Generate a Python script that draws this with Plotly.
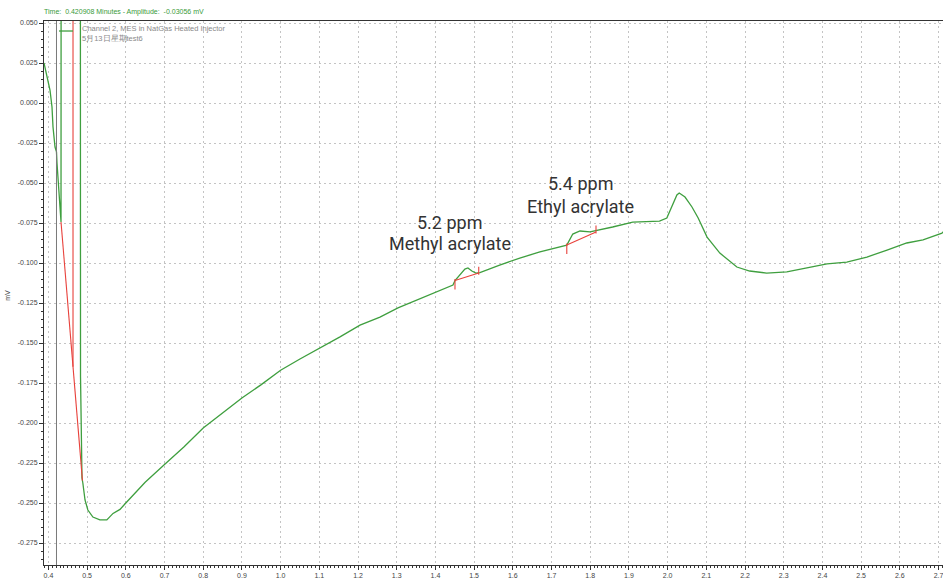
import plotly.graph_objects as go

# ---- Chromatogram trace: Channel 2, MES in NatGas Heated Injector ----
time_min = [
    0.3886, 0.3964, 0.4041, 0.4093, 0.4119, 0.4171, 0.4209, 0.4222, 0.4260,
    0.4300, 0.4326, 0.4332, 0.4823, 0.4830, 0.4868, 0.4890, 0.4946, 0.5020,
    0.5150, 0.5330, 0.5510, 0.5670, 0.5850, 0.6000, 0.6190, 0.6500, 0.7000,
    0.7500, 0.8000, 0.8500, 0.9000, 0.9500, 1.0000, 1.0500, 1.1020, 1.1535,
    1.2052, 1.2568, 1.3033, 1.3602, 1.4041, 1.4454, 1.4506, 1.4633, 1.4762,
    1.4840, 1.4943, 1.5047, 1.5150, 1.5660, 1.6180, 1.6700, 1.7140, 1.7395,
    1.7550, 1.7736, 1.7994, 1.8124, 1.8434, 1.8580, 1.9100, 1.9620, 1.9790,
    1.9980, 2.0110, 2.0240, 2.0300, 2.0450, 2.0630, 2.0790, 2.1020, 2.1350,
    2.1790, 2.2120, 2.2560, 2.3080, 2.3600, 2.4120, 2.4630, 2.5150, 2.5670,
    2.6180, 2.6600, 2.7090, 2.7150,
]
signal_mv = [
    0.0250, 0.0163, 0.0081, -0.0025, -0.0150, -0.0275, -0.03056, -0.0375, -0.0510,
    -0.0650, -0.0744, 0.3500, 0.3500, -0.1710, -0.2344, -0.2375, -0.2481, -0.2544,
    -0.2588, -0.2606, -0.2606, -0.2565, -0.2540, -0.2500, -0.2450, -0.2370, -0.2260,
    -0.2150, -0.2031, -0.1935, -0.1844, -0.1760, -0.1670, -0.1600, -0.1531, -0.1462,
    -0.1388, -0.1338, -0.1281, -0.1225, -0.1181, -0.1138, -0.1110, -0.1075, -0.1038,
    -0.1031, -0.1050, -0.1063, -0.1060, -0.1013, -0.0969, -0.0931, -0.0906, -0.0888,
    -0.0819, -0.0800, -0.0806, -0.0800, -0.0781, -0.0775, -0.0744, -0.0738, -0.0738,
    -0.0719, -0.0650, -0.0575, -0.0563, -0.0588, -0.0650, -0.0719, -0.0838, -0.0938,
    -0.1025, -0.1050, -0.1063, -0.1056, -0.1031, -0.1006, -0.0994, -0.0963, -0.0919,
    -0.0875, -0.0856, -0.0813, -0.0800,
]

# cursor readout
cursor_time = 0.420908
cursor_amp = -0.03056

# solvent peak integration (baseline + drop line)
solvent_base_t = [0.4326, 0.4880]
solvent_base_v = [-0.0744, -0.2360]
solvent_drop_t = 0.4636
off_scale_mv = 0.3500

# identified peaks
peak_names = ["Methyl acrylate", "Ethyl acrylate"]
peak_conc = ["5.2 ppm", "5.4 ppm"]
peak_start_t = [1.4506, 1.7395]
peak_end_t = [1.5120, 1.8150]
peak_start_v = [-0.1110, -0.0888]
peak_end_v = [-0.1063, -0.0806]

# axis ticks
x_tick_vals = [0.4, 0.5, 0.6, 0.7, 0.8, 0.9, 1.0, 1.1, 1.2, 1.3, 1.4, 1.5,
               1.6, 1.7, 1.8, 1.9, 2.0, 2.1, 2.2, 2.3, 2.4, 2.5, 2.6, 2.7]
x_tick_text = ["0.4", "0.5", "0.6", "0.7", "0.8", "0.9", "1.0", "1.1", "1.2",
               "1.3", "1.4", "1.5", "1.6", "1.7", "1.8", "1.9", "2.0", "2.1",
               "2.2", "2.3", "2.4", "2.5", "2.6", "2.7"]
y_tick_vals = [0.050, 0.025, 0.000, -0.025, -0.050, -0.075, -0.100, -0.125,
               -0.150, -0.175, -0.200, -0.225, -0.250, -0.275]
y_tick_text = ["0.050", "0.025", "0.000", "-0.025", "-0.050", "-0.075", "-0.100",
               "-0.125", "-0.150", "-0.175", "-0.200", "-0.225", "-0.250", "-0.275"]

TRACE_GREEN = "#3f9f3f"
MARK_RED = "#e8413b"
TICK_FONT = dict(family="Liberation Sans, Arial, sans-serif", size=7, color="#444444")
LABEL_FONT = dict(family="Roboto, sans-serif", size=18, color="#333333")
MARK_UP = 0.004
MARK_DOWN = 0.0055

# integration marks: baselines, drop line and start/end ticks
mark_x, mark_y = [], []
mark_x += solvent_base_t + [None]
mark_y += solvent_base_v + [None]
frac = (solvent_drop_t - solvent_base_t[0]) / (solvent_base_t[1] - solvent_base_t[0])
drop_base = solvent_base_v[0] + frac * (solvent_base_v[1] - solvent_base_v[0])
mark_x += [solvent_drop_t, solvent_drop_t, None]
mark_y += [drop_base, off_scale_mv, None]
for ts, te, vs, ve in zip(peak_start_t, peak_end_t, peak_start_v, peak_end_v):
    mark_x += [ts, te, None, ts, ts, None, te, te, None]
    mark_y += [vs, ve, None, vs + 0.001, vs - MARK_DOWN, None, ve - 0.001, ve + MARK_UP, None]

fig = go.Figure()
fig.add_trace(go.Scatter(x=time_min, y=signal_mv, mode="lines",
                         line=dict(color=TRACE_GREEN, width=1.3),
                         showlegend=False, hoverinfo="skip"))
fig.add_trace(go.Scatter(x=mark_x, y=mark_y, mode="lines",
                         line=dict(color=MARK_RED, width=1.1),
                         showlegend=False, hoverinfo="skip"))

# cursor line
fig.add_shape(type="line", xref="x", yref="paper", x0=cursor_time, x1=cursor_time,
              y0=0, y1=1, line=dict(color="#7a7a7a", width=1))
# legend swatch
fig.add_shape(type="line", xref="paper", yref="paper", x0=0.0167, x1=0.0323,
              y0=0.9816, y1=0.9816, line=dict(color=TRACE_GREEN, width=1.3))

annotations = [
    dict(text=f"Time:  {cursor_time:.6f} Minutes - Amplitude:  {cursor_amp:.5f} mV",
         xref="paper", yref="paper", x=-0.0025, y=1.0165, xanchor="left",
         yanchor="middle", showarrow=False,
         font=dict(family="Liberation Sans, Arial, sans-serif", size=7, color="#3a9a3a")),
    dict(text="Channel 2, MES in NatGas Heated Injector<br>5月13日星期test6",
         xref="paper", yref="paper", x=0.0405, y=0.9985, xanchor="left",
         yanchor="top", align="left", showarrow=False,
         font=dict(family="Liberation Sans, Arial, sans-serif", size=7.5, color="#8a8a8a")),
    dict(text="mV", xref="paper", yref="paper", x=-0.046, y=0.495, textangle=-90,
         showarrow=False, font=TICK_FONT),
    dict(text=peak_conc[0], x=1.4377, y=-0.0744, showarrow=False, font=LABEL_FONT),
    dict(text=peak_names[0], x=1.4377, y=-0.0881, showarrow=False, font=LABEL_FONT),
    dict(text=peak_conc[1], x=1.776, y=-0.0506, showarrow=False, font=LABEL_FONT),
    dict(text=peak_names[1], x=1.776, y=-0.0644, showarrow=False, font=LABEL_FONT),
]

grid_style = dict(showgrid=True, gridcolor="#c4c4c4", gridwidth=1, griddash="2px,3px")

fig.update_layout(
    width=943, height=581,
    margin=dict(l=44, r=0, t=21, b=16),
    paper_bgcolor="white", plot_bgcolor="white",
    annotations=annotations,
    showlegend=False,
    xaxis=dict(range=[0.38863, 2.71163], tickmode="array", tickvals=x_tick_vals,
               ticktext=x_tick_text, ticks="outside", ticklen=4, tickcolor="#333333",
               showline=True, linecolor="#333333", linewidth=1, mirror=True,
               zeroline=False, tickfont=TICK_FONT, ticklabeloverflow="allow",
               minor=dict(tickmode="linear", tick0=0.4, dtick=0.01, ticks="outside",
                          ticklen=2, tickcolor="#333333", showgrid=False),
               **grid_style),
    yaxis=dict(range=[-0.28875, 0.05125], tickmode="array", tickvals=y_tick_vals,
               ticktext=y_tick_text, ticks="outside", ticklen=4, tickcolor="#333333",
               showline=True, linecolor="#333333", linewidth=1,
               zeroline=False, tickfont=TICK_FONT,
               minor=dict(tickmode="linear", tick0=0, dtick=0.005, ticks="outside",
                          ticklen=2, tickcolor="#333333", showgrid=False),
               **grid_style),
)

fig.write_html("out.html")
